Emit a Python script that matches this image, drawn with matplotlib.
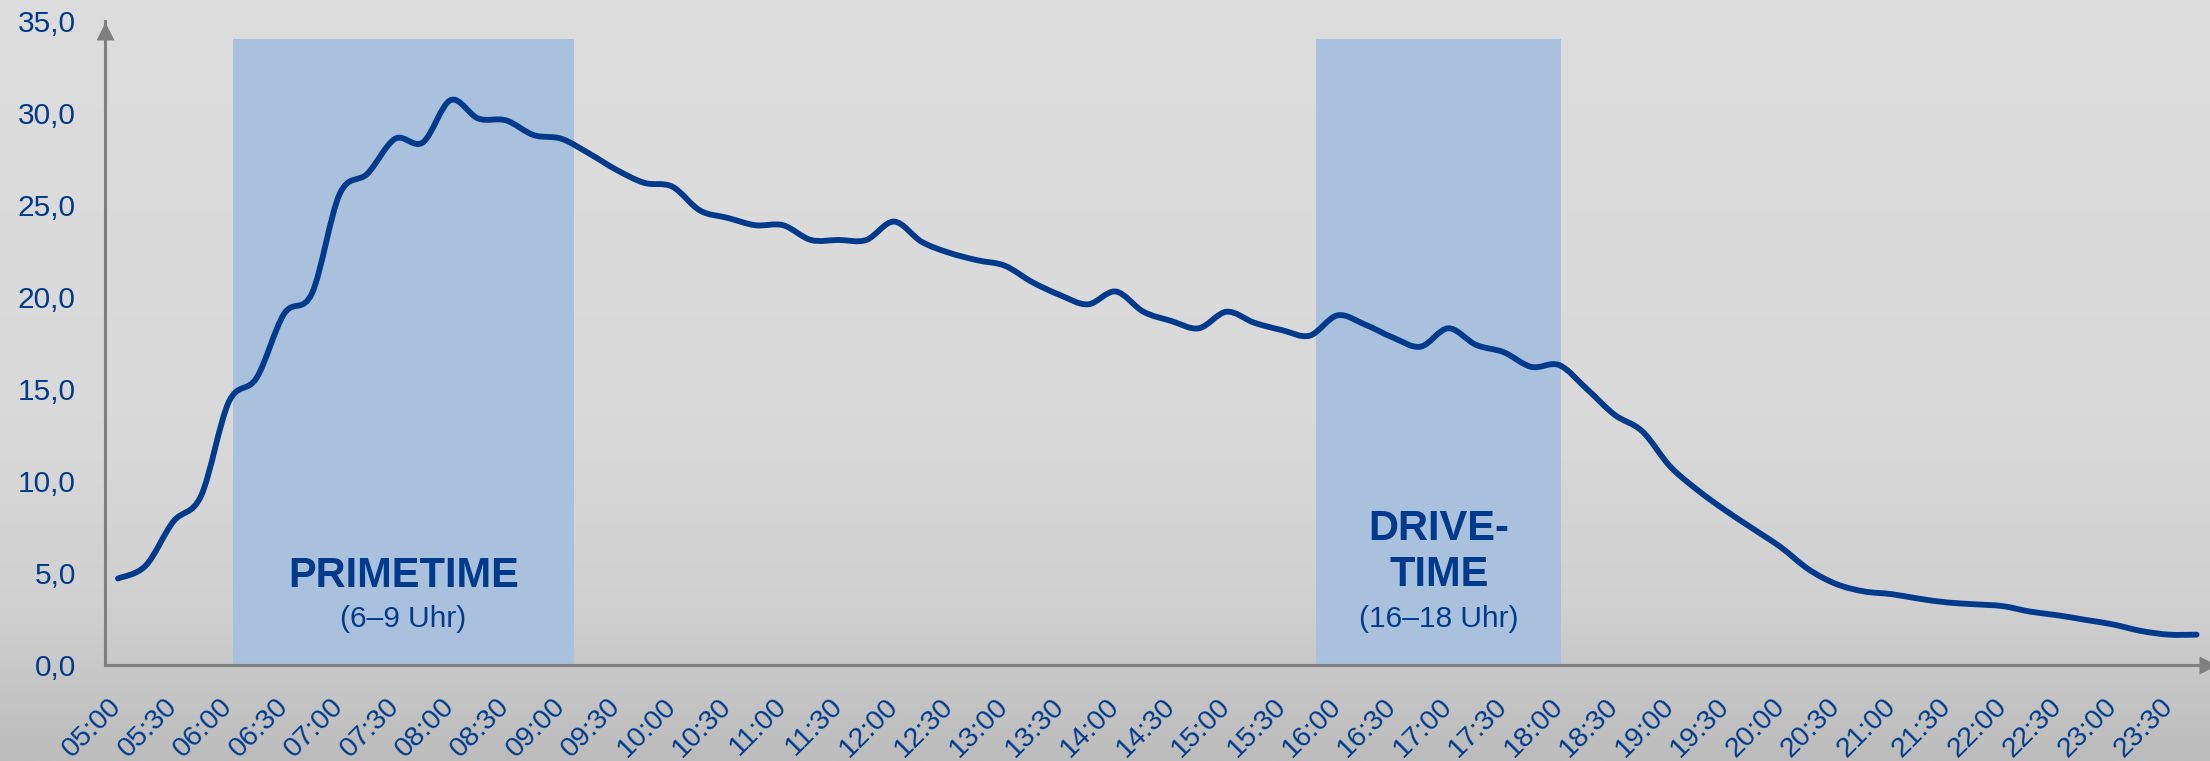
import numpy as np
import matplotlib
matplotlib.use("Agg")
import matplotlib.pyplot as plt
from matplotlib.path import Path
from matplotlib.patches import PathPatch
from matplotlib.colors import LinearSegmentedColormap

plt.rcParams['font.family'] = ['Liberation Sans', 'DejaVu Sans']

# ---------------- data ----------------
# quarter-hour values from 05:00 to 23:45
start_hour = 5.0
step_hours = 0.25
values = [
    4.7, 5.4, 7.8, 9.2,          # 05
    14.3, 15.6, 19.1, 20.2,      # 06
    25.6, 26.7, 28.6, 28.4,      # 07
    30.7, 29.7, 29.6, 28.8,      # 08
    28.6, 27.8, 26.9, 26.2,      # 09
    26.0, 24.7, 24.3, 23.9,      # 10
    23.9, 23.1, 23.1, 23.1,      # 11
    24.1, 23.0, 22.4, 22.0,      # 12
    21.7, 20.8, 20.1, 19.6,      # 13
    20.3, 19.2, 18.7, 18.3,      # 14
    19.2, 18.6, 18.2, 17.9,      # 15
    19.0, 18.5, 17.8, 17.3,      # 16
    18.3, 17.4, 17.0, 16.2,      # 17
    16.3, 15.0, 13.6, 12.7,      # 18
    10.8, 9.5, 8.4, 7.4,         # 19
    6.4, 5.2, 4.4, 4.0,          # 20
    3.85, 3.6, 3.4, 3.3,         # 21
    3.2, 2.9, 2.7, 2.45,         # 22
    2.2, 1.85, 1.65, 1.65,       # 23
]
tick_labels = ["05:00", "05:30", "06:00", "06:30", "07:00", "07:30", "08:00", "08:30",
               "09:00", "09:30", "10:00", "10:30", "11:00", "11:30", "12:00", "12:30",
               "13:00", "13:30", "14:00", "14:30", "15:00", "15:30", "16:00", "16:30",
               "17:00", "17:30", "18:00", "18:30", "19:00", "19:30", "20:00", "20:30",
               "21:00", "21:30", "22:00", "22:30", "23:00", "23:30"]
y_ticks = [0, 5, 10, 15, 20, 25, 30, 35]
prime_span = (6.04, 9.11)
drive_span = (15.81, 18.02)
band_top = 34.0
prime_title = "PRIMETIME"
prime_sub = "(6–9 Uhr)"
drive_title = ["DRIVE-", "TIME"]
drive_sub = "(16–18 Uhr)"

BLUE = "#003a8c"
BAND = "#a9c1dc"
GRAY = "#7f7f7f"

x = start_hour + step_hours * np.arange(len(values))
y = np.array(values)

fig = plt.figure(figsize=(22.10, 7.61), dpi=100)

# background (concrete-like gray gradient)
bg = fig.add_axes([0, 0, 1, 1], zorder=-10)
cmap = LinearSegmentedColormap.from_list(
    "bg", [(0.0, "#dddddd"), (0.55, "#d9d9d9"), (0.80, "#d0d0d0"), (1.0, "#bcbcbc")])
grad = np.linspace(0, 1, 256).reshape(-1, 1)
bg.imshow(grad, aspect="auto", cmap=cmap, extent=[0, 1, 0, 1], origin="upper")
bg.set_axis_off()

ax = fig.add_axes([105 / 2210, 96 / 761, (2208 - 105) / 2210, 644 / 761])
ax.set_facecolor("none")
ax.set_xlim(4.883, 23.853)
ax.set_ylim(0, 35)

# bands
for span in (prime_span, drive_span):
    ax.axvspan(span[0], span[1], ymin=0, ymax=band_top / 35, color=BAND, lw=0, zorder=1)


# smoothed line (Bezier through the data points)
def smooth_path(xs, ys):
    pts = np.column_stack([xs, ys])
    n = len(pts)
    verts = [pts[0]]
    codes = [Path.MOVETO]
    for i in range(n - 1):
        p0 = pts[i - 1] if i > 0 else pts[i]
        p1 = pts[i]
        p2 = pts[i + 1]
        p3 = pts[i + 2] if i + 2 < n else pts[i + 1]
        c1 = p1 + (p2 - p0) / 6.0
        c2 = p2 - (p3 - p1) / 6.0
        verts += [c1, c2, p2]
        codes += [Path.CURVE4] * 3
    return Path(verts, codes)


ax.add_patch(PathPatch(smooth_path(x, y), facecolor="none", edgecolor=BLUE,
                       lw=4.2, capstyle="round", joinstyle="round", zorder=3))

# band texts
pc = (prime_span[0] + prime_span[1]) / 2
dc = (drive_span[0] + drive_span[1]) / 2
ax.text(pc, 4.25, prime_title, ha="center", va="baseline", fontsize=30,
        fontweight="bold", color=BLUE, zorder=4)
ax.text(pc, 2.08, prime_sub, ha="center", va="baseline", fontsize=21.5, color=BLUE, zorder=4)
ax.text(dc, 6.78, drive_title[0], ha="center", va="baseline", fontsize=30,
        fontweight="bold", color=BLUE, zorder=4)
ax.text(dc, 4.28, drive_title[1], ha="center", va="baseline", fontsize=30,
        fontweight="bold", color=BLUE, zorder=4)
ax.text(dc, 2.08, drive_sub, ha="center", va="baseline", fontsize=21.5, color=BLUE, zorder=4)

# axes styling
for s in ("top", "right"):
    ax.spines[s].set_visible(False)
for s in ("left", "bottom"):
    ax.spines[s].set_color(GRAY)
    ax.spines[s].set_linewidth(2.2)
    ax.spines[s].set_zorder(2)

ax.set_yticks(y_ticks)
ax.set_yticklabels([f"{v:.1f}".replace(".", ",") for v in y_ticks])
ax.tick_params(axis="y", length=0, pad=21, labelsize=21.5, labelcolor=BLUE)

tick_pos = [start_hour + 0.5 * i for i in range(len(tick_labels))]
ax.set_xticks(tick_pos)
ax.set_xticklabels(tick_labels, rotation=45, ha="right", va="center",
                   rotation_mode="anchor")
ax.tick_params(axis="x", length=0, pad=27, labelsize=20.5, labelcolor=BLUE)

# arrow heads
ax.plot([1.0], [0.0], marker=">", ms=13, color=GRAY, transform=ax.transAxes,
        clip_on=False, zorder=5, mec="none")
ax.plot([0.0], [0.985], marker="^", ms=13, color=GRAY, transform=ax.transAxes,
        clip_on=False, zorder=5, mec="none")

fig.savefig("out.png", dpi=100)
